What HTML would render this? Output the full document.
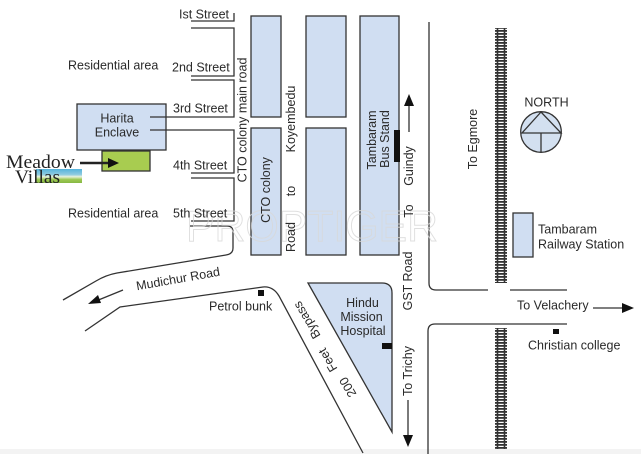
<!DOCTYPE html>
<html>
<head>
<meta charset="utf-8">
<style>
  html,body{margin:0;padding:0;background:#fff;}
  body{width:641px;height:454px;overflow:hidden;}
  svg{display:block;}
  text{font-family:"Liberation Sans",Arial,sans-serif;font-size:12.5px;fill:#2a2a2a;}
  .serif{font-family:"Liberation Serif","Times New Roman",serif;}
</style>
</head>
<body>
<svg width="641" height="454" viewBox="0 0 641 454" xmlns="http://www.w3.org/2000/svg">
  <defs>
    <pattern id="rail" x="0" y="0" width="12" height="3" patternUnits="userSpaceOnUse">
      <rect x="0" y="0" width="12" height="1.8" fill="#333"/>
    </pattern>
    <linearGradient id="logo" x1="0" y1="0" x2="0" y2="1">
      <stop offset="0" stop-color="#55b3dc"/>
      <stop offset="0.4" stop-color="#8fcbe0"/>
      <stop offset="0.55" stop-color="#e8f2dc"/>
      <stop offset="0.75" stop-color="#9cc852"/>
      <stop offset="1" stop-color="#86b844"/>
    </linearGradient>
  </defs>

  <rect x="0" y="0" width="641" height="454" fill="#fff"/>
  <rect x="0" y="449" width="641" height="5" fill="#f3f3f3"/>

  <!-- Blocks -->
  <g fill="#d0def2" stroke="#333" stroke-width="1.3">
    <rect x="251" y="16" width="30" height="101"/>
    <rect x="306" y="16" width="40" height="101"/>
    <rect x="360" y="16" width="39" height="239"/>
    <rect x="251" y="128" width="30" height="127"/>
    <rect x="306" y="128" width="40" height="127"/>
    <rect x="77" y="104" width="89" height="46"/>
    <rect x="513" y="213" width="20" height="44"/>
    <path d="M308,283 L382,283 Q392,283 392,293 L392,432 Z"/>
  </g>
  <rect x="394" y="130" width="6" height="32" fill="#111"/>

  <!-- Green Meadow Villas box -->
  <rect x="102" y="151" width="48" height="20" fill="#a8cc50" stroke="#333" stroke-width="1.3"/>

  <!-- Street lines -->
  <g fill="none" stroke="#333" stroke-width="1.3">
    <path d="M191,21 L234,21 L234,13"/>
    <path d="M191,28 L234,28 L234,76 L191,76"/>
    <path d="M191,80 L234,80 L234,117 L150,117"/>
    <path d="M150,130 L234,130 L234,173 L191,173"/>
    <path d="M191,178 L234,178 L234,221 L191,221"/>
    <!-- Mudichur upper -->
    <path d="M190,226 L227,226 Q233,226 233,232 L233,248 Q233,254 226,255 L117,273 Q106,275 96,281 L63,300"/>
    <!-- Mudichur lower + bypass -->
    <path d="M85,331 L120,307 L263,287 Q273,286 279,296 L363,453"/>
    <!-- GST road -->
    <path d="M429,22 L429,283 Q429,290 436,290 L488,290"/>
    <path d="M510,290 L567,290"/>
    <path d="M567,324 L435,324 Q428,324 428,331 L428,454"/>
    <!-- arrows shafts -->
    <path d="M123,290 L96,301"/>
    <path d="M409,132 L409,102"/>
    <path d="M408,400 L408,438"/>
    <path d="M593,308 L624,308"/>
  </g>
  <path d="M80,163 L110,163" stroke="#222" stroke-width="2.5"/>

  <!-- arrowheads -->
  <g fill="#111">
    <polygon points="88,304 98,295 101,303"/>
    <polygon points="409,94 404,106 414,106"/>
    <polygon points="408,447 403,435 413,435"/>
    <polygon points="634,308 622,303 622,313"/>
    <polygon points="119,163 108,158 108,168"/>
  </g>

  <!-- markers -->
  <rect x="258" y="290" width="6" height="6" fill="#111"/>
  <rect x="382" y="343" width="10" height="6" fill="#111"/>
  <rect x="553" y="329" width="6" height="5" fill="#111"/>

  <!-- Railway -->
  <rect x="495" y="28" width="12" height="255" fill="url(#rail)"/>
  <rect x="495" y="328" width="12" height="121" fill="url(#rail)"/>
  <g stroke="#333" stroke-width="1.6">
    <line x1="497.5" y1="28" x2="497.5" y2="283"/>
    <line x1="504.5" y1="28" x2="504.5" y2="283"/>
    <line x1="497.5" y1="328" x2="497.5" y2="449"/>
    <line x1="504.5" y1="328" x2="504.5" y2="449"/>
  </g>

  <!-- North symbol -->
  <circle cx="541" cy="132" r="20.3" fill="#d3e0f0" stroke="#333" stroke-width="1.3"/>
  <g fill="none" stroke="#333" stroke-width="1.3">
    <path d="M541,112 L522,133 L561,133 Z"/>
    <path d="M541,133 L541,152"/>
  </g>

  <!-- Watermark -->
  <text x="186" y="241" textLength="252" lengthAdjust="spacingAndGlyphs" style="font-size:44px;fill:none;stroke:#d8d8d8;stroke-width:1;opacity:0.8">PROPTIGER</text>

  <!-- Horizontal labels -->
  <text x="179" y="18.5">Ist Street</text>
  <text x="68" y="69.5">Residential area</text>
  <text x="172" y="71.5">2nd Street</text>
  <text x="173" y="112.5">3rd Street</text>
  <text x="173" y="169.5">4th Street</text>
  <text x="68" y="217.5">Residential area</text>
  <text x="173" y="217.5">5th Street</text>
  <text x="117" y="122.5" text-anchor="middle">Harita</text>
  <text x="117" y="136.5" text-anchor="middle">Enclave</text>
  <text x="209" y="310.5">Petrol bunk</text>
  <text x="362.5" y="307" text-anchor="middle">Hindu</text>
  <text x="361.5" y="321" text-anchor="middle">Mission</text>
  <text x="363" y="335" text-anchor="middle">Hospital</text>
  <text x="546.5" y="106.5" text-anchor="middle">NORTH</text>
  <text x="538" y="233.5">Tambaram</text>
  <text x="538" y="248.5">Railway Station</text>
  <text x="517" y="309.5">To Velachery</text>
  <text x="528" y="349.5">Christian college</text>

  <!-- Rotated labels -->
  <g dominant-baseline="central" text-anchor="middle">
    <text transform="translate(242.5,120) rotate(-90)">CTO colony main road</text>
    <text transform="translate(266,190) rotate(-90)">CTO colony</text>
    <text transform="translate(291,119) rotate(-90)">Koyembedu</text>
    <text transform="translate(291,191) rotate(-90)">to</text>
    <text transform="translate(291,237) rotate(-90)">Road</text>
    <text transform="translate(372,140) rotate(-90)">Tambaram</text>
    <text transform="translate(385,139) rotate(-90)">Bus Stand</text>
    <text transform="translate(409,166) rotate(-90)">Guindy</text>
    <text transform="translate(409,211) rotate(-90)">To</text>
    <text transform="translate(408,281) rotate(-90)">GST Road</text>
    <text transform="translate(408,371) rotate(-90)">To Trichy</text>
    <text transform="translate(473,139) rotate(-90)">To Egmore</text>
    <text transform="translate(178,279) rotate(-10)">Mudichur Road</text>
    <text transform="translate(307,320) rotate(-120.5)">Bypass</text>
    <text transform="translate(328,360) rotate(-120.5)">Feet</text>
    <text transform="translate(348,387) rotate(-120.5)">200</text>
  </g>

  <!-- Meadow Villas logo -->
  <rect x="36" y="169" width="46" height="14" fill="url(#logo)"/>
  <text class="serif" x="6" y="168" textLength="69" lengthAdjust="spacingAndGlyphs" style="font-size:19px;fill:#222">Meadow</text>
  <text class="serif" x="15" y="183" textLength="45" lengthAdjust="spacingAndGlyphs" style="font-size:19px;fill:#222">Villas</text>
</svg>
</body>
</html>
